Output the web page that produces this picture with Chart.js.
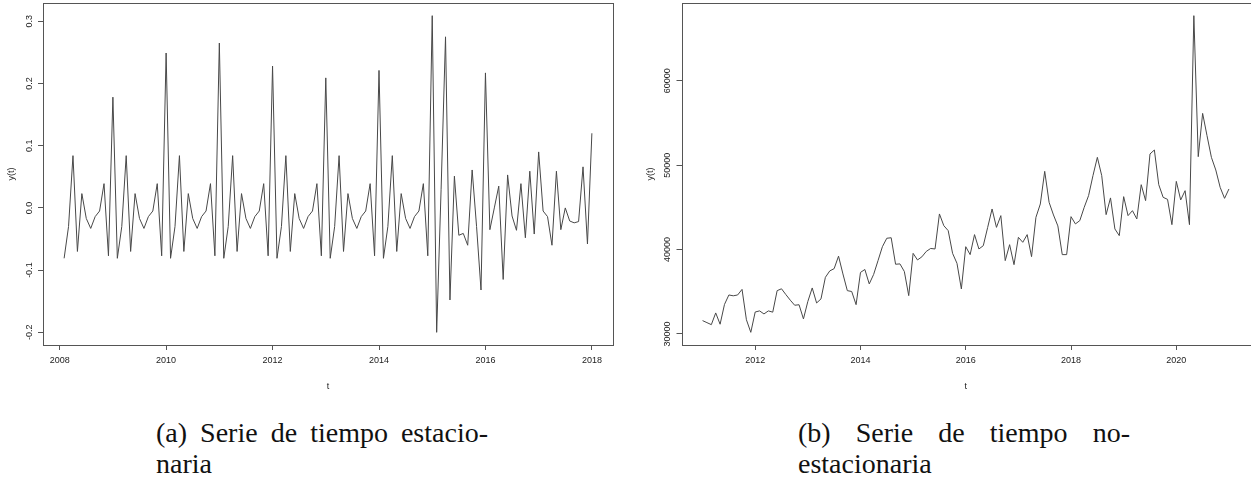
<!DOCTYPE html>
<html>
<head>
<meta charset="utf-8">
<script src="https://cdn.jsdelivr.net/npm/chart.js@4.4.0/dist/chart.umd.min.js"></script>
<style>
  html, body { margin: 0; padding: 0; background: #fff; }
  body { width: 1251px; height: 478px; position: relative; overflow: hidden; }
  canvas { position: absolute; top: 0; }
  #chartA { left: 0; }
  #chartB { left: 630px; }
  .cap { position: absolute; font-family: "Liberation Serif", "Times New Roman", serif;
         font-size: 28px; line-height: 31px; color: #111; }
  .cap .l1 { display: flex; justify-content: space-between; width: 332px; white-space: nowrap; }
  #capA { left: 156px; top: 417px; }
  #capB { left: 798px; top: 417px; }
</style>
</head>
<body>
<canvas id="chartA" width="625" height="400"></canvas>
<canvas id="chartB" width="621" height="400"></canvas>

<div class="cap" id="capA">
  <div class="l1"><span>(a)</span><span>Serie</span><span>de</span><span>tiempo</span><span>estacio-</span></div>
  <div>naria</div>
</div>
<div class="cap" id="capB">
  <div class="l1"><span>(b)</span><span>Serie</span><span>de</span><span>tiempo</span><span>no-</span></div>
  <div>estacionaria</div>
</div>

<script>
// ---- Stationary series: monthly, Feb 2008 .. Jan 2018 ----
const startA = { year: 2008, month: 2 };
const seriesA = [
  -0.081, -0.030, 0.084, -0.070, 0.023, -0.017, -0.033, -0.014, -0.005, 0.039, -0.077,
  0.178, -0.081, -0.030, 0.084, -0.070, 0.023, -0.017, -0.033, -0.014, -0.005, 0.039, -0.077,
  0.249, -0.081, -0.030, 0.084, -0.070, 0.023, -0.017, -0.033, -0.014, -0.005, 0.039, -0.077,
  0.265, -0.081, -0.030, 0.084, -0.070, 0.023, -0.017, -0.033, -0.014, -0.005, 0.039, -0.077,
  0.228, -0.081, -0.030, 0.084, -0.070, 0.023, -0.017, -0.033, -0.014, -0.005, 0.039, -0.077,
  0.209, -0.081, -0.030, 0.084, -0.070, 0.023, -0.017, -0.033, -0.014, -0.005, 0.039, -0.077,
  0.221, -0.081, -0.030, 0.084, -0.070, 0.023, -0.017, -0.033, -0.014, -0.005, 0.039, -0.077,
  0.309, -0.200, 0.030, 0.275, -0.148, 0.051, -0.044, -0.041, -0.060, 0.061, -0.030, -0.132,
  0.217, -0.035, 0.000, 0.035, -0.115, 0.053, -0.013, -0.036, 0.039, -0.048, 0.059, -0.042,
  0.090, -0.005, -0.014, -0.060, 0.059, -0.035, 0.000, -0.021, -0.024, -0.022, 0.066, -0.058,
  0.120
];
const xTicksA = [2008, 2010, 2012, 2014, 2016, 2018];
const yTicksA = [-0.2, -0.1, 0.0, 0.1, 0.2, 0.3];
const yLabelsA = ["-0.2", "-0.1", "0.0", "0.1", "0.2", "0.3"];

// ---- Non-stationary series: monthly, Jan 2011 .. Jan 2021 ----
const startB = { year: 2011, month: 1 };
const seriesB = [
  31580, 31340, 31100, 32490, 31150, 33500, 34620, 34520, 34620, 35280, 31680, 30190,
  32600, 32730, 32370, 32730, 32580, 35130, 35350, 34660, 34000, 33400, 33460, 31780,
  33850, 35450, 33670, 34150, 36710, 37470, 37740, 39220, 37110, 35130, 35030, 33470,
  37290, 37640, 35930, 37050, 38690, 40340, 41340, 41400, 38260, 38300, 37400, 34540,
  39550, 38770, 39140, 39780, 40130, 40070, 44220, 42830, 42240, 39550, 38370, 35330,
  40340, 39400, 41770, 40070, 40460, 42630, 44810, 42630, 44020, 38690, 40580, 38210,
  41450, 40860, 41770, 39160, 43820, 45400, 49270, 45600, 44100, 42800, 39400, 39400,
  43900, 43040, 43430, 45000, 46390, 48760, 50930, 48760, 44140, 46120, 42440, 41650,
  46270, 44020, 44610, 43630, 47690, 45800, 51330, 51800, 47690, 46190, 45950, 42950,
  48080, 45880, 46980, 42950, 67720, 51010, 56140, 53500, 50930, 49430, 47370, 46070,
  47180
];
const xTicksB = [2012, 2014, 2016, 2018, 2020];
const yTicksB = [30000, 40000, 50000, 60000];
const yLabelsB = ["30000", "40000", "50000", "60000"];

// time index of each monthly observation
function toPoints(start, values) {
  return values.map((v, i) => ({ x: start.year + (start.month - 1 + i) / 12, y: v }));
}
// axis limits padded by 4% of the range on each side
function padRange(lo, hi) {
  const d = (hi - lo) * 0.04;
  return [lo - d, hi + d];
}

const tickFont = { family: "'Liberation Sans', Arial, sans-serif", size: 9 };
const inkTick = '#222';
const inkFrame = '#555';

// frame around the plotting region plus vertical y tick labels
const framePlugin = {
  id: 'frame',
  afterDraw(chart, args, opts) {
    const { ctx, chartArea: a } = chart;
    ctx.save();
    ctx.strokeStyle = inkFrame;
    ctx.lineWidth = 1;
    ctx.strokeRect(Math.round(a.left) + 0.5, Math.round(a.top) + 0.5,
                   Math.round(a.right - a.left), Math.round(a.bottom - a.top));
    const ys = chart.scales.y;
    ctx.fillStyle = inkTick;
    ctx.font = `${tickFont.size}px ${tickFont.family}`;
    ctx.textAlign = 'center';
    ctx.textBaseline = 'middle';
    ys.ticks.forEach((t, i) => {
      const py = ys.getPixelForValue(t.value);
      ctx.save();
      ctx.translate(a.left - opts.labelGap, py);
      ctx.rotate(-Math.PI / 2);
      ctx.fillText(opts.labels[i], 0, 0);
      ctx.restore();
    });
    ctx.restore();
  }
};

function makeChart(id, start, values, xTicks, yTicks, yLabels, yAxisWidth, padRight, yTitlePad) {
  const pts = toPoints(start, values);
  const xs = pts.map(p => p.x);
  const [xMin, xMax] = padRange(Math.min(...xs), Math.max(...xs));
  const [yMin, yMax] = padRange(Math.min(...values), Math.max(...values));
  return new Chart(document.getElementById(id), {
    type: 'line',
    data: {
      datasets: [{
        data: pts,
        borderColor: '#484848',
        borderWidth: 1,
        pointRadius: 0,
        tension: 0,
        fill: false
      }]
    },
    options: {
      responsive: false,
      animation: false,
      devicePixelRatio: 1,
      layout: { padding: { top: 3, right: padRight, bottom: 0, left: 0 } },
      plugins: {
        legend: { display: false },
        tooltip: { enabled: false },
        frame: { labels: yLabels, labelGap: 13.5 }
      },
      scales: {
        x: {
          type: 'linear',
          min: xMin, max: xMax,
          afterBuildTicks: s => { s.ticks = xTicks.map(v => ({ value: v })); },
          afterFit: s => { s.height = 55; },
          ticks: { font: tickFont, color: inkTick, padding: 5, maxRotation: 0, autoSkip: false,
                   callback: v => String(v) },
          grid: { drawOnChartArea: false, drawTicks: true, tickLength: 5, color: inkFrame },
          border: { display: false },
          title: { display: true, text: 't', font: tickFont, color: inkTick,
                   padding: { top: 0, bottom: 7.6 } }
        },
        y: {
          type: 'linear',
          min: yMin, max: yMax,
          afterBuildTicks: s => { s.ticks = yTicks.map(v => ({ value: v })); },
          afterFit: s => { s.width = yAxisWidth; },
          ticks: { display: false },
          grid: { drawOnChartArea: false, drawTicks: true, tickLength: 5, color: inkFrame },
          border: { display: false },
          title: { display: true, text: 'y(t)', font: tickFont, color: inkTick,
                   padding: { top: yTitlePad, bottom: 0 } }
        }
      }
    },
    plugins: [framePlugin]
  });
}

makeChart('chartA', startA, seriesA, xTicksA, yTicksA, yLabelsA, 43, 12, 6.6);
makeChart('chartB', startB, seriesB, xTicksB, yTicksB, yLabelsB, 51.5, 1, 15.1);
</script>
</body>
</html>
